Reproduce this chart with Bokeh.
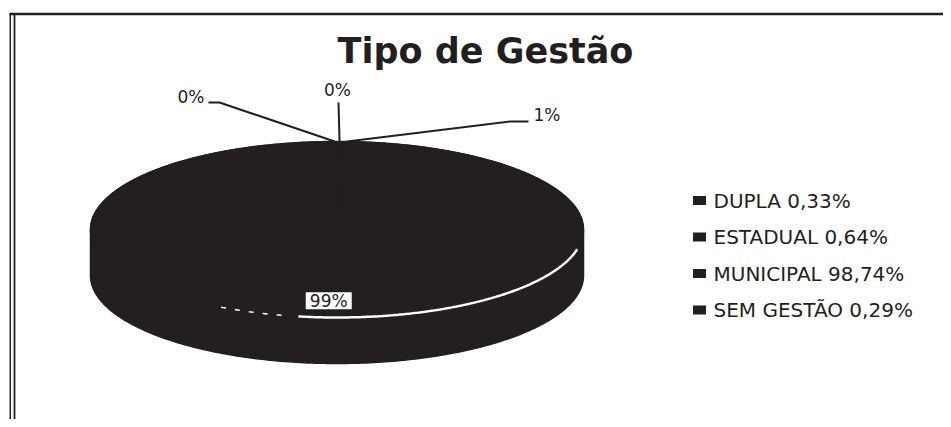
import numpy as np
from bokeh.plotting import figure
from bokeh.models import Range1d
from bokeh.core.properties import value
from bokeh.embed import file_html
from bokeh.resources import INLINE

# ---- data ----
categories = ["DUPLA", "ESTADUAL", "MUNICIPAL", "SEM GESTÃO"]
percent = [0.33, 0.64, 98.74, 0.29]
pie_labels = ["0%", "1%", "99%", "0%"]
title_text = "Tipo de Gestão"

# ---- layout / style ----
W, H = 943, 419
DARK = "#231f20"
FONT = value("DejaVu Sans")
cx, cy, rx, ry, depth = 336.5, 229.0, 246.5, 88.0, 46.0

p = figure(width=W, height=H, x_range=Range1d(0, W), y_range=Range1d(H, 0),
           x_axis_type=None, y_axis_type=None, output_backend="svg",
           toolbar_location=None, min_border=0)
p.grid.visible = False
p.outline_line_color = None
p.background_fill_color = "white"
p.border_fill_color = "white"

# frame of the scanned chart
p.line([9, W], [13.5, 13.5], line_color=DARK, line_width=2.5)
p.line([9.8, 9.8], [13, H], line_color=DARK, line_width=1.5)
p.line([14, 14], [13, H], line_color=DARK, line_width=1.8)


def pt(theta_deg, f=1.0, dy=0.0):
    t = np.radians(theta_deg)
    return cx + f * rx * np.sin(t), cy - f * ry * np.cos(t) + dy


total = float(sum(percent))
cum = np.concatenate([[0.0], np.cumsum(percent)]) / total * 360.0

# base silhouette (avoids anti-aliasing seams between slices)
th = np.linspace(0, 360, 400)
bx, by = pt(th)
p.patch(bx, by, fill_color=DARK, line_color=DARK, line_width=1)

side_x, side_y, top_x, top_y = [], [], [], []
for i in range(len(categories)):
    a0, a1 = cum[i], cum[i + 1]
    s0, s1 = max(a0, 90.0), min(a1, 270.0)
    if s1 > s0:
        th = np.linspace(s0, s1, 200)
        xt, yt = pt(th)
        xb, yb = pt(th[::-1], dy=depth)
        side_x.append(list(xt) + list(xb))
        side_y.append(list(yt) + list(yb))
    n = max(3, int((a1 - a0) * 2) + 3)
    th = np.linspace(a0, a1, n)
    xt, yt = pt(th)
    top_x.append([cx] + list(xt))
    top_y.append([cy] + list(yt))

p.patches(side_x, side_y, fill_color=DARK, line_color=DARK, line_width=1.5)
p.patches(top_x, top_y, fill_color=DARK, line_color=DARK, line_width=1.5)

# light rim along the front edge of the top face (scan highlight)
th = np.linspace(103, 189, 200)
hx, hy = pt(th)
p.line(hx, hy, line_color="white", line_width=2.5)
th = np.linspace(193, 210, 60)
hx, hy = pt(th)
p.line(hx, hy, line_color="white", line_width=1.5, line_dash="5 9")

# ---- data labels ----
mids = (cum[:-1] + cum[1:]) / 2.0
big = int(np.argmax(percent))
lx, ly = pt(mids[big], f=0.81)
p.rect([lx - 4], [ly], width=46, height=17, fill_color="white", line_color=None)
p.text([lx - 4], [ly], text=[pie_labels[big]], text_font=FONT, text_font_size="17px",
       text_color=DARK, text_align="center", text_baseline="middle")

# outside labels with leaders: (text x, text y, align, leader path start points)
outside = {
    0: dict(tx=337, ty=89, align="center", path=[(338, 102)]),
    1: dict(tx=533, ty=114, align="left", path=[(528, 121), (510, 121)]),
    3: dict(tx=204, ty=96, align="right", path=[(208, 102), (219, 102)]),
}
for i, o in outside.items():
    ax, ay = pt(mids[i], f=1.0)
    xs = [q[0] for q in o["path"]] + [float(ax)]
    ys = [q[1] for q in o["path"]] + [float(ay)]
    p.line(xs, ys, line_color=DARK, line_width=2)
    p.text([o["tx"]], [o["ty"]], text=[pie_labels[i]], text_font=FONT,
           text_font_size="17px", text_color=DARK, text_align=o["align"],
           text_baseline="middle")

# ---- title ----
p.text([485], [50], text=[title_text], text_font=FONT, text_font_size="35px",
       text_font_style="bold", text_color=DARK, text_align="center",
       text_baseline="middle")

# ---- legend ----
leg_y0, leg_dy = 200, 36.5
leg_ys = [leg_y0 + k * leg_dy for k in range(len(categories))]
leg_txt = [f"{c} {v:.2f}".replace(".", ",") + "%" for c, v in zip(categories, percent)]
p.rect([699] * len(categories), leg_ys, width=13, height=9, fill_color=DARK, line_color=None)
p.text([713] * len(categories), leg_ys, text=leg_txt, text_font=FONT,
       text_font_size="20px", text_color=DARK, text_align="left", text_baseline="middle")

open("out.html", "w").write(file_html(p, INLINE))
